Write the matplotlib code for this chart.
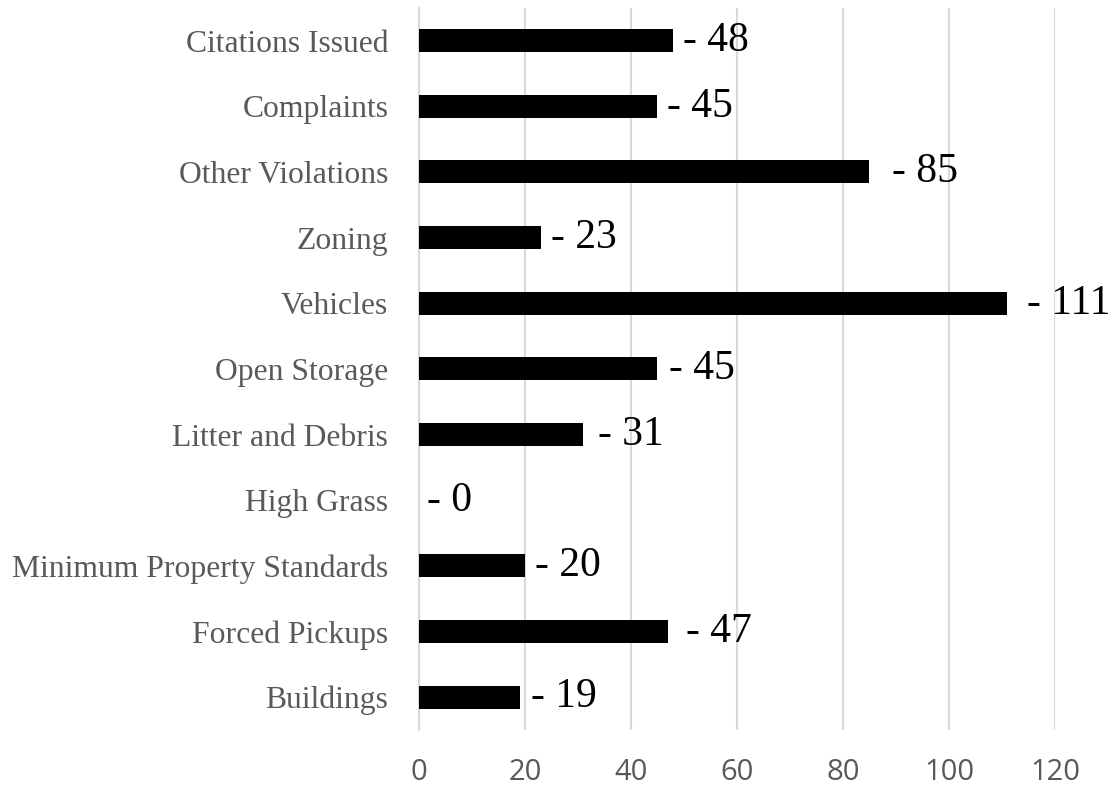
import matplotlib
matplotlib.use('Agg')
import matplotlib.pyplot as plt
from matplotlib import font_manager

# categories, top to bottom as in the chart
categories = ['Citations Issued', 'Complaints', 'Other Violations', 'Zoning',
              'Vehicles', 'Open Storage', 'Litter and Debris', 'High Grass',
              'Minimum Property Standards', 'Forced Pickups', 'Buildings']
counts = [48, 45, 85, 23, 111, 45, 31, 0, 20, 47, 19]
xticks = [0, 20, 40, 60, 80, 100, 120]

# extra gap (points) between bar end and its label, as placed in the original
label_gap = [7, 7, 16, 7, 14, 8, 11, 6, 7, 13, 8]

names = {f.name for f in font_manager.fontManager.ttflist}
tick_font = 'Liberation Sans Narrow' if 'Liberation Sans Narrow' in names else 'Open Sans'

fig = plt.figure(figsize=(11.14, 7.85), dpi=100)
ax = fig.add_axes([0.376, 0.070, 0.571, 0.920])

ypos = list(range(len(categories)))[::-1]
ax.barh(ypos, counts, height=0.35, color='black', zorder=3)

for y, v, g in zip(ypos, counts, label_gap):
    ax.annotate('- %d' % v, (v, y), xytext=(g, 0), textcoords='offset points',
                ha='left', va='center', fontsize=30, family='Liberation Serif',
                color='black')

ax.set_xlim(0, 120)
ax.set_ylim(-0.5, len(categories) - 0.5)
ax.set_xticks(xticks)
ax.set_xticklabels([str(t) for t in xticks], family=tick_font, fontsize=21,
                   color='#595959')
ax.set_yticks(ypos)
ax.set_yticklabels(categories, family='Liberation Serif', fontsize=22.8,
                   color='#595959')
ax.tick_params(axis='both', length=0)
ax.tick_params(axis='x', pad=20)
ax.tick_params(axis='y', pad=22)

ax.grid(axis='x', color='#d9d9d9', linewidth=1.5, zorder=0)
for s in ['top', 'right', 'bottom']:
    ax.spines[s].set_visible(False)
ax.spines['left'].set_color('#d9d9d9')
ax.spines['left'].set_linewidth(1.5)

fig.savefig('out.png', dpi=100)
